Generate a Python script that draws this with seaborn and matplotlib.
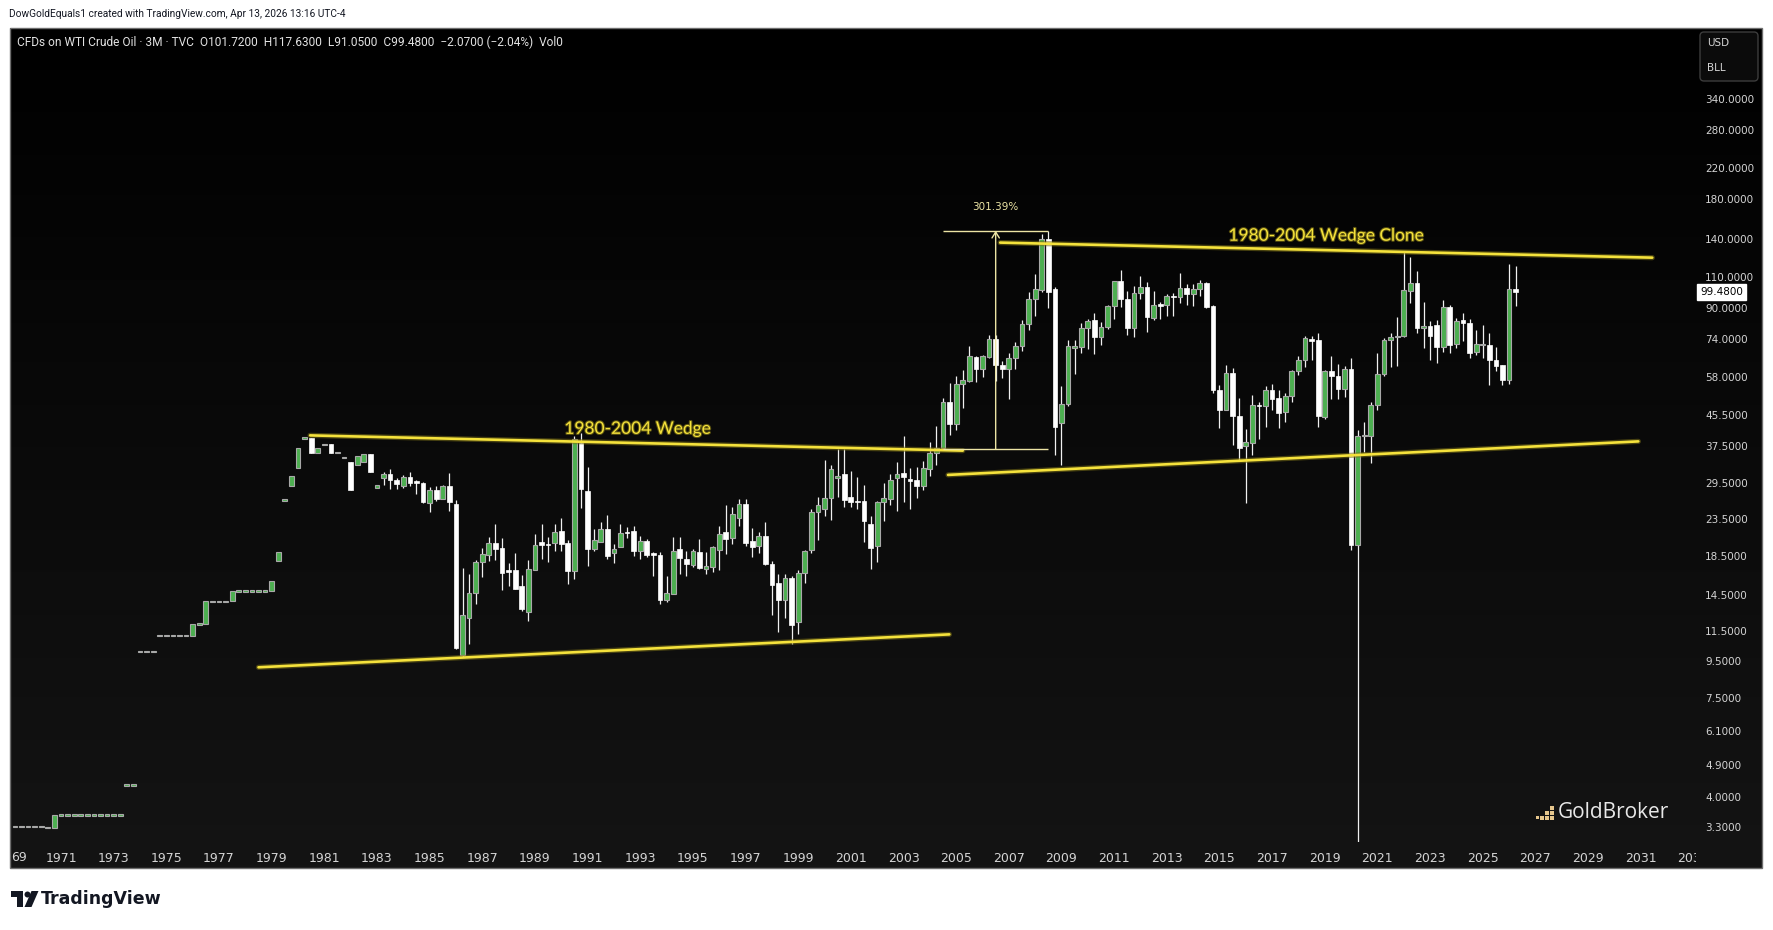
"""
plot.py — WTI crude oil, quarterly candles 1969-2026 (TradingView dark style)
"""
import matplotlib
matplotlib.use("Agg")
import matplotlib.pyplot as plt
import matplotlib.patheffects as pe
import numpy as np
import pandas as pd
import seaborn as sns
from matplotlib.colors import LinearSegmentedColormap
from matplotlib.patches import Circle, FancyBboxPatch, Polygon, Rectangle
from matplotlib.ticker import NullLocator
from matplotlib.transforms import Bbox, IdentityTransform


# ─── Data ─────────────────────────────────────────────────────────────────────

FIRST_BAR = 1969.25          # Q2 1969; one bar per quarter, placed at quarter start

OPEN = [
    3.31, 3.31, 3.31,                 # 1969
    3.31, 3.31, 3.29, 3.29,           # 1970
    3.56, 3.56, 3.56, 3.56,           # 1971
    3.56, 3.56, 3.56, 3.56,           # 1972
    3.56, 3.56, 4.31, 4.31,           # 1973
    10.11, 10.11, 10.11, 11.16,       # 1974
    11.16, 11.16, 11.16, 11.16,       # 1975
    11.16, 12.03, 12.03, 13.90,       # 1976
    13.90, 13.90, 13.90, 14.85,       # 1977
    14.85, 14.85, 14.85, 14.85,       # 1978
    14.85, 18.0, 26.5, 28.9,          # 1979
    32.4, 39.3, 39.3, 35.85,          # 1980
    37.8, 37.8, 35.9, 34.8,           # 1981
    33.8, 33.2, 33.8, 35.6,           # 1982
    28.7, 30.4, 31.2, 30.2,           # 1983
    29.0, 30.6, 29.8, 29.5,           # 1984
    26.0, 28.2, 26.7, 29.0,           # 1985
    25.8, 9.9, 12.5, 14.7,            # 1986
    17.85, 18.7, 20.1, 19.5,          # 1987
    16.9, 17.0, 15.3, 13.0,           # 1988
    17.0, 20.3, 20.0, 20.1,           # 1989
    21.7, 20.1, 16.9, 38.2,           # 1990
    28.0, 19.4, 20.3, 22.0,           # 1991
    18.9, 19.6, 21.6, 21.7,           # 1992
    19.2, 20.4, 18.8, 18.7,           # 1993
    14.0, 14.6, 19.35, 18.2,          # 1994
    17.5, 19.0, 17.05, 17.3,          # 1995
    19.25, 21.6, 20.85, 23.7,         # 1996
    25.8, 20.4, 19.8, 21.1,           # 1997
    17.65, 15.6, 14.0, 16.15,         # 1998
    12.15, 16.7, 19.3, 24.5,          # 1999
    25.0, 26.8, 30.6, 31.2,           # 2000
    27.0, 26.3, 26.3, 22.7,           # 2001
    19.8, 26.2, 26.7, 30.4,           # 2002
    31.4, 30.2, 30.1, 28.9,           # 2003
    32.2, 35.7, 36.8, 49.6,           # 2004
    43.0, 55.4, 56.6, 66.1,           # 2005
    61.0, 66.1, 73.9, 62.6,           # 2006
    61.0, 65.4, 70.6, 81.5,           # 2007
    95.6, 101.0, 140.0, 101.5,        # 2008
    43.4, 48.7, 70.2, 70.2,           # 2009
    79.1, 83.5, 74.9, 79.97,          # 2010
    91.38, 106.72, 95.42, 79.2,       # 2011
    98.83, 103.02, 84.6, 91.8,        # 2012
    91.6, 97.0, 96.6, 102.4,          # 2013
    98.2, 101.6, 105.5, 91.3,         # 2014
    53.5, 47.0, 59.4, 45.4,           # 2015
    37.4, 38.2, 48.4, 48.2,           # 2016
    53.4, 50.6, 46.3, 51.3,           # 2017
    60.2, 64.5, 73.6, 73.5,           # 2018
    45.0, 60.4, 58.4, 53.8,           # 2019
    61.1, 19.9, 39.9, 39.9,           # 2020
    48.4, 59.1, 73.3, 75.0,           # 2021
    75.2, 100.6, 105.8, 79.5,         # 2022
    80.4, 81.0, 70.2, 90.6,           # 2023
    71.7, 83.5, 81.6, 67.9,           # 2024
    71.4, 71.3, 64.6, 62.5,           # 2025
    57.0, 101.72,                     # 2026
]

HIGH = [
    3.31, 3.31, 3.31,                 # 1969
    3.31, 3.31, 3.29, 3.56,           # 1970
    3.56, 3.56, 3.56, 3.56,           # 1971
    3.56, 3.56, 3.56, 3.56,           # 1972
    3.56, 3.56, 4.31, 4.31,           # 1973
    10.11, 10.11, 10.11, 11.16,       # 1974
    11.16, 11.16, 11.16, 11.16,       # 1975
    12.03, 12.03, 13.90, 13.90,       # 1976
    13.90, 13.90, 14.85, 14.85,       # 1977
    14.85, 14.85, 14.85, 14.85,       # 1978
    15.85, 19.0, 26.5, 30.9,          # 1979
    36.9, 39.3, 39.3, 36.9,           # 1980
    37.8, 37.8, 35.9, 34.8,           # 1981
    33.8, 35.0, 35.6, 35.6,           # 1982
    29.1, 31.6, 32.3, 30.5,           # 1983
    31.0, 31.6, 30.1, 29.7,           # 1984
    28.8, 29.0, 29.2, 31.4,           # 1985
    26.5, 17.15, 16.5, 18.1,          # 1986
    19.5, 20.9, 22.7, 20.8,           # 1987
    17.7, 18.9, 16.4, 18.1,           # 1988
    21.4, 22.8, 21.0, 22.8,           # 1989
    23.7, 20.5, 39.9, 40.5,           # 1990
    32.8, 22.0, 23.0, 24.1,           # 1991
    20.0, 22.8, 22.3, 22.4,           # 1992
    21.1, 20.7, 19.05, 19.0,          # 1993
    16.3, 21.0, 21.0, 19.1,           # 1994
    19.4, 20.7, 19.0, 19.8,           # 1995
    22.4, 25.7, 25.4, 26.7,           # 1996
    26.7, 22.2, 21.6, 23.1,           # 1997
    18.0, 16.5, 16.5, 16.3,           # 1998
    17.0, 19.3, 24.95, 27.0,          # 1999
    34.2, 33.2, 36.7, 36.7,           # 2000
    31.9, 30.7, 29.2, 23.9,           # 2001
    26.3, 29.5, 31.2, 33.7,           # 2002
    39.9, 32.5, 32.7, 34.0,           # 2003
    38.35, 42.4, 50.6, 56.0,          # 2004
    58.4, 60.7, 70.9, 66.3,           # 2005
    66.6, 75.6, 76.0, 64.3,           # 2006
    67.8, 72.7, 83.5, 99.6,           # 2007
    111.6, 144.2, 147.27, 103.0,      # 2008
    54.9, 73.5, 73.5, 81.7,           # 2009
    83.8, 87.1, 82.2, 92.06,          # 2010
    106.95, 114.83, 100.62, 103.37,   # 2011
    110.55, 106.43, 100.4, 93.5,      # 2012
    98.4, 99.0, 112.2, 105.0,         # 2013
    105.0, 107.7, 106.6, 92.0,        # 2014
    55.3, 62.6, 61.5, 50.6,           # 2015
    41.6, 51.7, 49.5, 54.9,           # 2016
    55.5, 53.4, 52.4, 60.8,           # 2017
    66.3, 75.5, 75.5, 77.0,           # 2018
    60.8, 66.3, 63.1, 62.2,           # 2019
    65.6, 41.4, 43.5, 49.4,           # 2020
    67.8, 74.2, 77.0, 85.1,           # 2021
    129.6, 124.6, 113.9, 93.6,        # 2022
    82.7, 83.5, 94.8, 91.8,           # 2023
    84.6, 87.1, 84.0, 78.3,           # 2024
    80.8, 77.0, 70.2, 62.7,           # 2025
    119.2, 117.63,                    # 2026
]

LOW = [
    3.31, 3.31, 3.31,                 # 1969
    3.31, 3.31, 3.29, 3.29,           # 1970
    3.56, 3.56, 3.56, 3.56,           # 1971
    3.56, 3.56, 3.56, 3.56,           # 1972
    3.56, 3.56, 4.31, 4.31,           # 1973
    10.11, 10.11, 10.11, 11.16,       # 1974
    11.16, 11.16, 11.16, 11.16,       # 1975
    11.16, 12.03, 12.03, 13.90,       # 1976
    13.90, 13.90, 13.90, 14.85,       # 1977
    14.85, 14.85, 14.85, 14.85,       # 1978
    14.85, 18.0, 26.5, 28.9,          # 1979
    32.4, 39.3, 35.85, 35.85,         # 1980
    37.8, 35.85, 35.9, 34.8,          # 1981
    28.3, 33.2, 33.8, 31.6,           # 1982
    28.7, 29.2, 28.4, 28.5,           # 1983
    28.6, 29.0, 27.5, 26.0,           # 1984
    24.6, 26.3, 26.6, 24.7,           # 1985
    10.24, 9.74, 10.6, 13.7,          # 1986
    16.2, 18.0, 18.1, 14.9,           # 1987
    15.3, 15.0, 13.1, 12.3,           # 1988
    17.0, 18.2, 17.8, 19.2,           # 1989
    19.1, 15.5, 16.0, 25.2,           # 1990
    17.4, 19.2, 20.3, 18.25,          # 1991
    17.7, 19.6, 20.85, 18.6,          # 1992
    18.2, 18.45, 16.3, 13.7,          # 1993
    13.8, 14.6, 16.5, 16.3,           # 1994
    17.3, 17.1, 16.5, 16.8,           # 1995
    17.0, 18.8, 20.0, 22.4,           # 1996
    19.8, 18.4, 18.9, 17.5,           # 1997
    12.7, 11.4, 12.5, 10.6,           # 1998
    11.3, 15.6, 18.9, 20.5,           # 1999
    24.0, 23.4, 27.0, 25.3,           # 2000
    25.3, 25.0, 20.3, 17.1,           # 2001
    17.8, 23.2, 25.7, 24.75,          # 2002
    26.2, 25.1, 26.8, 28.25,          # 2003
    30.8, 33.2, 36.8, 40.1,           # 2004
    41.3, 47.6, 56.3, 56.3,           # 2005
    57.9, 65.6, 56.6, 57.5,           # 2006
    50.4, 61.0, 68.5, 78.3,           # 2007
    85.8, 99.9, 90.0, 35.2,           # 2008
    33.2, 48.2, 59.0, 67.5,           # 2009
    69.5, 67.2, 71.3, 79.0,           # 2010
    84.09, 90.6, 75.71, 74.95,        # 2011
    95.44, 77.28, 83.6, 83.8,         # 2012
    85.8, 85.7, 93.0, 91.8,           # 2013
    91.3, 97.5, 90.0, 52.5,           # 2014
    42.0, 47.0, 37.6, 34.2,           # 2015
    26.0, 35.2, 39.2, 42.2,           # 2016
    47.0, 42.0, 43.6, 49.6,           # 2017
    58.6, 61.9, 64.5, 42.3,           # 2018
    44.5, 50.4, 50.4, 51.2,           # 2019
    19.3, -37.63, 36.0, 33.6,         # 2020
    47.0, 58.3, 61.9, 62.3,           # 2021
    75.0, 93.0, 76.6, 70.0,           # 2022
    64.5, 63.6, 68.2, 67.5,           # 2023
    69.7, 72.8, 65.6, 66.8,           # 2024
    65.6, 55.2, 60.2, 55.0,           # 2025
    55.5, 91.05,                      # 2026
]

CLOSE = [
    3.31, 3.31, 3.31,                 # 1969
    3.31, 3.31, 3.29, 3.56,           # 1970
    3.56, 3.56, 3.56, 3.56,           # 1971
    3.56, 3.56, 3.56, 3.56,           # 1972
    3.56, 3.56, 4.31, 4.31,           # 1973
    10.11, 10.11, 10.11, 11.16,       # 1974
    11.16, 11.16, 11.16, 11.16,       # 1975
    12.03, 12.03, 13.90, 13.90,       # 1976
    13.90, 13.90, 14.85, 14.85,       # 1977
    14.85, 14.85, 14.85, 14.85,       # 1978
    15.85, 19.0, 26.5, 30.9,          # 1979
    36.9, 39.3, 35.85, 36.9,          # 1980
    37.8, 35.85, 35.9, 34.8,          # 1981
    28.3, 35.0, 35.6, 31.6,           # 1982
    29.1, 31.2, 30.1, 29.3,           # 1983
    30.6, 29.6, 29.7, 26.2,           # 1984
    28.25, 26.7, 29.0, 26.1,          # 1985
    10.3, 12.7, 14.7, 17.85,          # 1986
    18.8, 20.2, 19.4, 16.6,           # 1987
    16.8, 15.05, 13.2, 17.1,          # 1988
    19.9, 19.9, 19.95, 21.6,          # 1989
    20.0, 16.9, 39.1, 28.4,           # 1990
    19.4, 20.5, 22.1, 18.5,           # 1991
    19.35, 21.45, 21.55, 19.2,        # 1992
    20.4, 18.65, 18.75, 14.0,         # 1993
    14.7, 19.2, 18.3, 17.6,           # 1994
    19.1, 17.2, 17.45, 19.6,          # 1995
    21.3, 20.7, 24.2, 25.8,           # 1996
    20.2, 19.7, 21.1, 17.6,           # 1997
    15.4, 14.0, 16.1, 11.95,          # 1998
    16.7, 19.2, 24.5, 25.6,           # 1999
    26.8, 32.25, 30.7, 26.5,          # 2000
    26.1, 26.2, 23.2, 19.5,           # 2001
    26.1, 26.8, 30.2, 31.2,           # 2002
    30.6, 29.95, 29.0, 32.5,          # 2003
    35.7, 37.0, 49.6, 43.0,           # 2004
    55.5, 56.8, 66.3, 61.0,           # 2005
    66.3, 73.9, 62.8, 61.0,           # 2006
    65.6, 70.9, 81.5, 95.6,           # 2007
    101.5, 139.6, 100.0, 42.2,        # 2008
    48.7, 70.9, 70.3, 79.1,           # 2009
    83.0, 74.9, 79.9, 91.38,          # 2010
    106.72, 95.42, 79.2, 98.83,       # 2011
    103.02, 84.96, 91.8, 91.6,        # 2012
    97.2, 96.6, 102.4, 98.3,          # 2013
    101.6, 105.3, 90.5, 53.4,         # 2014
    47.0, 59.4, 45.2, 36.8,           # 2015
    38.3, 48.4, 48.3, 53.5,           # 2016
    50.4, 46.2, 51.3, 60.2,           # 2017
    64.7, 74.2, 73.4, 45.2,           # 2018
    60.2, 58.3, 53.6, 61.0,           # 2019
    19.9, 39.9, 40.0, 48.5,           # 2020
    59.2, 73.4, 74.8, 75.4,           # 2021
    101.1, 105.8, 79.5, 80.1,         # 2022
    75.4, 70.4, 90.6, 71.3,           # 2023
    83.1, 81.6, 67.5, 71.6,           # 2024
    71.5, 64.5, 62.3, 57.0,           # 2025
    101.55, 99.48,                    # 2026
]

PRICE_TICKS = [340, 280, 220, 180, 140, 110, 90, 74, 58, 45.5, 37.5, 29.5,
               23.5, 18.5, 14.5, 11.5, 9.5, 7.5, 6.1, 4.9, 4.0, 3.3]
YEAR_TICKS = list(range(1971, 2034, 2))
FIRST_YEAR_LABEL = "69"        # 1969, cut by the panel edge in the original

# trend lines drawn on the chart (year, price end points)
WEDGE_TOP_YEARS, WEDGE_TOP_PRICES = [1980.46, 2005.25], [40.0, 36.3]
WEDGE_LOW_YEARS, WEDGE_LOW_PRICES = [1978.50, 2004.74], [9.13, 11.26]
CLONE_TOP_YEARS, CLONE_TOP_PRICES = [2006.67, 2031.44], [136.6, 124.1]
CLONE_LOW_YEARS, CLONE_LOW_PRICES = [2004.69, 2030.91], [31.1, 38.5]

# price-range measurement, Q3 2004 .. Q3 2008
MEASURE_YEARS = [2004.5, 2008.5]
MEASURE_PRICES = [36.69, 147.27]

WEDGE_LABEL = "1980-2004 Wedge"
CLONE_LABEL = "1980-2004 Wedge Clone"


# ─── Style ────────────────────────────────────────────────────────────────────

W, H, DPI = 1773, 930, 100
PANE = (10, 28, 1762, 868)          # outer dark panel, pixels (l, t, r, b)
PLOT = (11, 28, 1696, 842)          # candle area inside the panel
X_LIM = (1969.10, 2033.10)
Y_LIM = (3.0, 536.0)
BODY_W = 0.18

UP_FILL, UP_EDGE = "#4caf50", "#a8a8a8"
DOWN_FILL = "#ffffff"
WICK = "#f0f0f0"
YELLOW = "#f5e23c"
MEASURE = "#ece4a4"
AXIS_TEXT = "#d4d4d4"

sns.set_theme(style="dark", rc={"axes.facecolor": "none", "figure.facecolor": "white"})
plt.rcParams["font.family"] = ["DejaVu Sans"]
NARROW = ["Roboto", "DejaVu Sans"]

PIX = IdentityTransform()


def fig_rect(l, t, r, b):
    return [l / W, 1 - b / H, (r - l) / W, (b - t) / H]


# ─── Figure ───────────────────────────────────────────────────────────────────

fig = plt.figure(figsize=(W / DPI, H / DPI), dpi=DPI)

bg = fig.add_axes(fig_rect(*PANE), zorder=0)
grad = LinearSegmentedColormap.from_list("pane", ["#000000", "#141414"])
bg.imshow(np.linspace(0, 1, 256).reshape(-1, 1), cmap=grad, aspect="auto",
          extent=[0, 1, 0, 1])
bg.set_axis_off()

ax = fig.add_axes(fig_rect(*PLOT), zorder=1)
ax.set_facecolor("none")
ax.set_yscale("log")
ax.set_xlim(*X_LIM)
ax.set_ylim(*Y_LIM)

# ─── Candles ──────────────────────────────────────────────────────────────────

n = len(CLOSE)
assert len(OPEN) == len(HIGH) == len(LOW) == n
df = pd.DataFrame({
    "year": FIRST_BAR + np.arange(n) * 0.25,
    "open": OPEN, "high": HIGH, "low": LOW, "close": CLOSE,
})
px_per_decade = (PLOT[3] - PLOT[1]) / np.log10(Y_LIM[1] / Y_LIM[0])
min_ratio = 10 ** (1.4 / px_per_decade)

lo = np.minimum(df["open"], df["close"]).to_numpy()
hi = np.maximum(df["open"], df["close"]).to_numpy()
thin = hi / lo < min_ratio
mid = np.sqrt(hi * lo)
lo = np.where(thin, mid / np.sqrt(min_ratio), lo)
hi = np.where(thin, mid * np.sqrt(min_ratio), hi)
up = (df["close"] >= df["open"]).to_numpy()
wick_low = np.where(df["low"] > 0, df["low"], Y_LIM[0] * 0.5)

ax.vlines(df["year"], wick_low, df["high"], colors=WICK, lw=0.9, zorder=2)
ax.bar(df["year"][up], (hi - lo)[up], bottom=lo[up], width=BODY_W,
       color=UP_FILL, edgecolor=UP_EDGE, linewidth=0.8, zorder=3)
ax.bar(df["year"][~up], (hi - lo)[~up], bottom=lo[~up], width=BODY_W,
       color=DOWN_FILL, edgecolor=DOWN_FILL, linewidth=0.5, zorder=3)

# ─── Trend lines ──────────────────────────────────────────────────────────────

lines = pd.concat([
    pd.DataFrame({"year": WEDGE_TOP_YEARS, "price": WEDGE_TOP_PRICES, "line": "wedge top"}),
    pd.DataFrame({"year": WEDGE_LOW_YEARS, "price": WEDGE_LOW_PRICES, "line": "wedge low"}),
    pd.DataFrame({"year": CLONE_TOP_YEARS, "price": CLONE_TOP_PRICES, "line": "clone top"}),
    pd.DataFrame({"year": CLONE_LOW_YEARS, "price": CLONE_LOW_PRICES, "line": "clone low"}),
])
n_before = len(ax.lines)
sns.lineplot(data=lines, x="year", y="price", units="line", estimator=None,
             sort=False, color=YELLOW, lw=1.9, legend=False, ax=ax, zorder=4)
glow = [pe.Stroke(linewidth=3.8, foreground="#7a6f16", alpha=0.55), pe.Normal()]
for ln in ax.lines[n_before:]:
    ln.set_path_effects(glow)

label_fx = [pe.withStroke(linewidth=1.5, foreground="#5a5210")]
ax.text(1992.90, 41.7, WEDGE_LABEL, color=YELLOW, fontsize=12.5,
        family=["Lato", "DejaVu Sans"], ha="center", va="center", zorder=5,
        path_effects=label_fx)
ax.text(2019.06, 142.7, CLONE_LABEL, color=YELLOW, fontsize=12.5,
        family=["Lato", "DejaVu Sans"], ha="center", va="center", zorder=5,
        path_effects=label_fx)

# ─── Price-range measurement ─────────────────────────────────────────────────

m_lo, m_hi = MEASURE_PRICES
m_mid = sum(MEASURE_YEARS) / 2
ax.hlines([m_lo, m_hi], MEASURE_YEARS[0], MEASURE_YEARS[1], colors=MEASURE, lw=1.0, zorder=4)
ax.annotate("", xy=(m_mid, m_hi), xytext=(m_mid, m_lo),
            arrowprops=dict(arrowstyle="->,head_length=0.35,head_width=0.22",
                            color=MEASURE, lw=1.0, shrinkA=0, shrinkB=0), zorder=4)
ax.annotate(f"{(m_hi / m_lo - 1) * 100:.2f}%", xy=(m_mid, m_hi), xytext=(0, 17),
            textcoords="offset points", ha="center", va="center",
            fontsize=7.5, color=MEASURE, zorder=5)

# ─── Axes ─────────────────────────────────────────────────────────────────────

for s in ax.spines.values():
    s.set_visible(False)
ax.set_xlabel("")
ax.set_ylabel("")
ax.grid(False)

ax.yaxis.tick_right()
ax.set_yticks(PRICE_TICKS)
ax.set_yticklabels([f"{v:.4f}" for v in PRICE_TICKS])
ax.yaxis.set_minor_locator(NullLocator())
ax.tick_params(axis="y", which="both", length=0, pad=6.5, labelsize=7.5,
               labelcolor=AXIS_TEXT, left=False, right=False,
               labelleft=False, labelright=True)

ax.set_xticks(YEAR_TICKS)
ax.set_xticklabels([str(y) for y in YEAR_TICKS])
ax.xaxis.set_minor_locator(NullLocator())
ax.tick_params(axis="x", which="both", length=0, pad=7, labelsize=9,
               labelcolor=AXIS_TEXT)
clip = Bbox.from_extents(PANE[0], 0, PLOT[2], H)
for lbl in ax.get_xticklabels():
    lbl.set_clip_box(clip)
    lbl.set_clip_on(True)
fig.text(PANE[0] + 1, H - 851, FIRST_YEAR_LABEL, transform=PIX, fontsize=9,
         color=AXIS_TEXT, va="top", ha="left", zorder=4)

# last price tag
ax.annotate(f"{CLOSE[-1]:.4f}", xy=(1, CLOSE[-1]), xycoords=("axes fraction", "data"),
            xytext=(3, 0), textcoords="offset points", ha="left", va="center",
            fontsize=7.5, color="black", annotation_clip=False, zorder=6,
            bbox=dict(boxstyle="square,pad=0.28", fc="white", ec="white"))

# ─── Panel decorations ────────────────────────────────────────────────────────

fig.add_artist(Rectangle((PANE[0], H - PANE[3]), PANE[2] - PANE[0], PANE[3] - PANE[1],
                         transform=PIX, fill=False, ec="#6e6e6e", lw=1.0, zorder=3))

fig.add_artist(FancyBboxPatch((1700, H - 81), 58, 49, boxstyle="round,pad=0,rounding_size=4",
                              transform=PIX, fc="#0b0b0b", ec="#3c3c3c", lw=1.0, zorder=3))
fig.text(1707, H - 43, "USD", transform=PIX, fontsize=7.5, color=AXIS_TEXT,
         va="center", zorder=4)
fig.text(1707, H - 68, "BLL", transform=PIX, fontsize=7.5, color=AXIS_TEXT,
         va="center", zorder=4)

chg = CLOSE[-1] - CLOSE[-2]
pct = chg / CLOSE[-2] * 100
legend = (f"CFDs on WTI Crude Oil · 3M · TVC  O{OPEN[-1]:.4f}  H{HIGH[-1]:.4f}  "
          f"L{LOW[-1]:.4f}  C{CLOSE[-1]:.4f}  {chg:+.4f} ({pct:+.2f}%)  Vol0")
legend = legend.replace("-", "\u2212")
fig.text(17, H - 42, legend, transform=PIX, fontsize=8.6, color="#e2e2e2",
         va="center", family=NARROW, zorder=4)

fig.text(9, H - 14, "DowGoldEquals1 created with TradingView.com, Apr 13, 2026 13:16 UTC-4",
         transform=PIX, fontsize=7.3, color="#131722", va="center", family=NARROW)

# GoldBroker watermark
GOLD = "#e6c68c"
for col, rows in enumerate([1, 1, 2, 3]):
    size = 3 if col == 0 else 4
    for r in range(rows):
        x0 = 1535 + col * 5 + (1 if col == 0 else 0)
        y0 = 820 - (r + 1) * 5 + 1
        fig.add_artist(Rectangle((x0, H - y0 - size), size, size, transform=PIX,
                                 fc=GOLD, ec="none", zorder=4))
fig.text(1558, H - 812, "GoldBroker", transform=PIX, fontsize=15, color="#e8e8e8",
         va="center", family=["Open Sans", "DejaVu Sans"], zorder=4)

# TradingView logo
DARK = "#131722"
fig.add_artist(Polygon([(11, H - 891), (23, H - 891), (23, H - 907), (17, H - 907),
                        (17, H - 897), (11, H - 897)], transform=PIX, fc=DARK, ec="none"))
fig.add_artist(Circle((27.5, H - 894.5), 3, transform=PIX, fc=DARK, ec="none"))
fig.add_artist(Polygon([(31.5, H - 891), (38.5, H - 891), (31.5, H - 907), (24.5, H - 907)],
                       transform=PIX, fc=DARK, ec="none"))
fig.text(41, H - 899, "TradingView", transform=PIX, fontsize=12.5, color=DARK,
         va="center", weight="bold")

fig.savefig("out.png", dpi=DPI, facecolor="white")
